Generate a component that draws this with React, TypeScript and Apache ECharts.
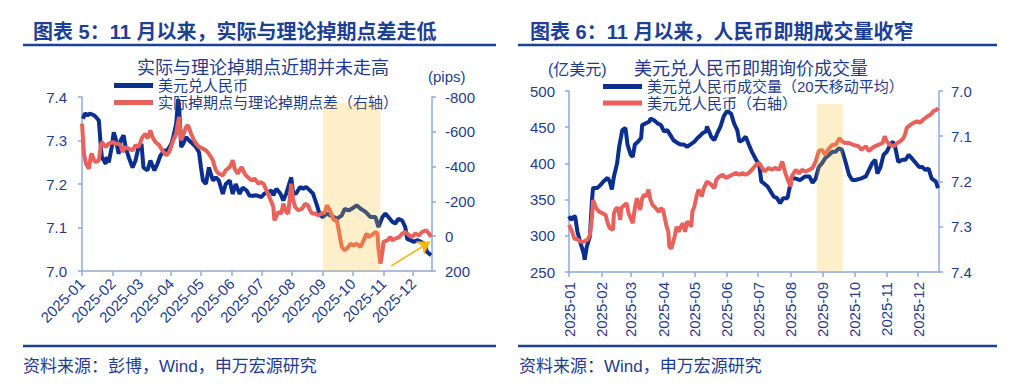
import React, { useEffect, useRef } from 'react';
import * as echarts from 'echarts';

const FONT = '"Liberation Sans", Arial, "Noto Sans CJK SC", sans-serif';
const NAVY = '#0b2f8e';
const RED = '#e9615b';
const TEXT = '#1f3c8c';
const HEAD = '#1d3f95';
const AXIS = '#8fa9dc';
const SHADE = 'rgba(245,190,40,0.25)';
const LINE_W = 4;

// ---- tick labels (month starts) ----
const monthTicks = ['2025-01-01', '2025-02-01', '2025-03-01', '2025-04-01', '2025-05-01', '2025-06-01',
  '2025-07-01', '2025-08-01', '2025-09-01', '2025-10-01', '2025-11-01', '2025-12-01'];

// ---- Chart 5: USD/CNY (left axis) ----
const fxDates = ['2025-01-02','2025-01-04','2025-01-07','2025-01-09','2025-01-13','2025-01-15','2025-01-18','2025-01-20','2025-01-21','2025-01-25','2025-01-26','2025-01-28','2025-01-31',
  '2025-02-02','2025-02-04','2025-02-07','2025-02-09','2025-02-12','2025-02-14','2025-02-17','2025-02-21','2025-02-24','2025-02-27',
  '2025-03-02','2025-03-04','2025-03-08','2025-03-11','2025-03-15','2025-03-18','2025-03-21','2025-03-25','2025-03-28',
  '2025-04-01','2025-04-03','2025-04-06','2025-04-08','2025-04-09','2025-04-11','2025-04-13','2025-04-16','2025-04-19','2025-04-23','2025-04-26','2025-04-29',
  '2025-05-01','2025-05-03','2025-05-06','2025-05-09','2025-05-13','2025-05-16','2025-05-19','2025-05-23','2025-05-26','2025-05-30',
  '2025-06-02','2025-06-05','2025-06-09','2025-06-12','2025-06-16','2025-06-19','2025-06-22','2025-06-26',
  '2025-07-01','2025-07-04','2025-07-08','2025-07-11','2025-07-13','2025-07-16','2025-07-20','2025-07-23','2025-07-26','2025-07-30','2025-07-31',
  '2025-08-02','2025-08-05','2025-08-09','2025-08-12','2025-08-15','2025-08-19','2025-08-22','2025-08-26','2025-08-29',
  '2025-09-01','2025-09-05','2025-09-08','2025-09-12','2025-09-15','2025-09-20','2025-09-23','2025-09-27','2025-09-30',
  '2025-10-05','2025-10-09','2025-10-14','2025-10-19','2025-10-24','2025-10-27','2025-10-31',
  '2025-11-03','2025-11-06','2025-11-10','2025-11-13','2025-11-16','2025-11-20','2025-11-23','2025-11-25','2025-11-28',
  '2025-12-02','2025-12-05','2025-12-09','2025-12-12','2025-12-15','2025-12-19'];
const fxValues = [7.350,7.362,7.358,7.362,7.358,7.354,7.346,7.285,7.262,7.246,7.262,7.250,7.285,
  7.319,7.304,7.269,7.300,7.312,7.285,7.262,7.238,7.254,7.285,
  7.292,7.238,7.231,7.254,7.231,7.246,7.265,7.277,7.277,
  7.292,7.308,7.338,7.395,7.375,7.285,7.292,7.308,7.300,7.292,7.285,7.273,
  7.238,7.208,7.200,7.238,7.208,7.215,7.208,7.177,7.200,7.208,
  7.177,7.200,7.177,7.192,7.185,7.173,7.173,7.174,
  7.170,7.178,7.182,7.185,7.174,7.189,7.178,7.162,7.178,7.208,7.215,
  7.178,7.178,7.193,7.189,7.193,7.185,7.178,7.151,7.128,
  7.124,7.132,7.128,7.124,7.120,7.128,7.143,7.139,7.143,
  7.151,7.143,7.136,7.124,7.124,7.101,7.124,
  7.132,7.124,7.113,7.109,7.120,7.116,7.101,7.074,7.071,
  7.067,7.071,7.067,7.063,7.044,7.036];

// ---- Chart 5: actual minus theoretical swap points, pips (right axis) ----
const swapDates = ['2025-01-01','2025-01-03','2025-01-05','2025-01-08','2025-01-10','2025-01-11','2025-01-13','2025-01-15','2025-01-18','2025-01-20','2025-01-21','2025-01-25','2025-01-28',
  '2025-02-01','2025-02-04','2025-02-07','2025-02-09','2025-02-11','2025-02-14','2025-02-17','2025-02-21','2025-02-24','2025-02-27',
  '2025-03-03','2025-03-06','2025-03-08','2025-03-11','2025-03-13','2025-03-16','2025-03-20','2025-03-23','2025-03-27','2025-03-30',
  '2025-04-03','2025-04-06','2025-04-07','2025-04-09','2025-04-11','2025-04-13','2025-04-16','2025-04-18','2025-04-21','2025-04-24','2025-04-26','2025-04-29',
  '2025-05-03','2025-05-06','2025-05-09','2025-05-13','2025-05-16','2025-05-19','2025-05-23','2025-05-26','2025-05-30',
  '2025-06-02','2025-06-04','2025-06-07','2025-06-11','2025-06-14','2025-06-17','2025-06-21','2025-06-24','2025-06-28','2025-06-30',
  '2025-07-03','2025-07-06','2025-07-09','2025-07-13','2025-07-14','2025-07-18','2025-07-21','2025-07-23','2025-07-26','2025-07-28','2025-07-31',
  '2025-08-02','2025-08-04','2025-08-07','2025-08-11','2025-08-14','2025-08-17','2025-08-19','2025-08-21','2025-08-24','2025-08-27','2025-08-31',
  '2025-09-03','2025-09-05','2025-09-08','2025-09-12','2025-09-15','2025-09-17','2025-09-20','2025-09-23','2025-09-25','2025-09-29',
  '2025-10-02','2025-10-05','2025-10-09','2025-10-12','2025-10-15','2025-10-17','2025-10-20','2025-10-24','2025-10-26','2025-10-27','2025-10-29','2025-10-31',
  '2025-11-01','2025-11-05','2025-11-08','2025-11-10','2025-11-13','2025-11-17','2025-11-20','2025-11-23','2025-11-27','2025-11-30',
  '2025-12-03','2025-12-07','2025-12-10','2025-12-14','2025-12-17','2025-12-19'];
const swapValues = [-647,-474,-417,-388,-465,-474,-436,-426,-436,-522,-541,-513,-532,
  -541,-532,-532,-522,-484,-513,-503,-493,-522,-513,
  -570,-589,-561,-608,-570,-541,-522,-493,-465,-484,
  -551,-589,-628,-685,-551,-580,-628,-637,-589,-551,-532,-513,
  -503,-493,-474,-436,-379,-359,-350,-379,-398,
  -436,-388,-359,-398,-359,-340,-321,-331,-302,-311,
  -302,-264,-225,-168,-91,-139,-130,-187,-139,-130,-302,
  -206,-168,-149,-158,-187,-177,-149,-130,-130,-120,-130,
  -139,-177,-149,-91,-91,-34,62,81,72,43,
  53,43,62,24,-15,5,-5,-24,-15,72,158,91,
  33,24,5,24,14,5,-15,-24,-5,5,
  -15,-5,-24,-34,-15,4];

// ---- Chart 6: USD/CNY spot volume, 20-day MA, 100m USD (left axis) ----
const volDates = ['2025-01-01','2025-01-03','2025-01-06','2025-01-07','2025-01-09','2025-01-12','2025-01-15','2025-01-16','2025-01-18','2025-01-21','2025-01-23','2025-01-24','2025-01-28','2025-01-31',
  '2025-02-03','2025-02-07','2025-02-09','2025-02-11','2025-02-13','2025-02-16','2025-02-18','2025-02-21','2025-02-24','2025-02-26',
  '2025-03-01','2025-03-03','2025-03-05','2025-03-08','2025-03-11','2025-03-12','2025-03-15','2025-03-19','2025-03-20','2025-03-23','2025-03-27','2025-03-30',
  '2025-04-02','2025-04-05','2025-04-08','2025-04-11','2025-04-15','2025-04-18','2025-04-21','2025-04-24','2025-04-27',
  '2025-05-01','2025-05-04','2025-05-07','2025-05-09','2025-05-12','2025-05-13','2025-05-17','2025-05-20','2025-05-23','2025-05-26','2025-05-29',
  '2025-06-01','2025-06-05','2025-06-08','2025-06-11','2025-06-13','2025-06-16','2025-06-19','2025-06-22','2025-06-25','2025-06-29',
  '2025-07-02','2025-07-04','2025-07-06','2025-07-10','2025-07-13','2025-07-16','2025-07-19','2025-07-22','2025-07-25','2025-07-29','2025-07-31',
  '2025-08-02','2025-08-06','2025-08-10','2025-08-15','2025-08-19','2025-08-22','2025-08-25','2025-08-28','2025-08-31',
  '2025-09-03','2025-09-07','2025-09-10','2025-09-13','2025-09-16','2025-09-19','2025-09-22','2025-09-26','2025-09-29',
  '2025-10-02','2025-10-07','2025-10-12','2025-10-15','2025-10-18','2025-10-21','2025-10-23','2025-10-26','2025-10-29',
  '2025-11-01','2025-11-04','2025-11-07','2025-11-09','2025-11-12','2025-11-16','2025-11-19','2025-11-22','2025-11-25','2025-11-28',
  '2025-12-02','2025-12-05','2025-12-08','2025-12-11','2025-12-14','2025-12-18','2025-12-20'];
const volValues = [327,322,327,326,306,290,276,267,285,299,350,366,366,370,
  375,380,375,364,382,400,423,446,449,426,
  412,409,426,430,435,453,455,458,462,460,455,453,
  444,446,439,432,428,426,426,423,426,
  430,435,439,442,444,451,437,432,442,451,465,
  472,469,455,446,430,432,437,426,416,405,
  398,375,373,368,361,354,352,345,352,352,366,
  379,379,377,382,382,373,379,395,400,
  407,412,416,416,421,419,405,384,377,
  377,379,382,391,400,405,386,395,412,
  416,425,430,423,402,405,405,412,407,402,
  395,395,391,393,379,375,366];

// ---- Chart 6: USD/CNY (right axis, inverted) ----
const cnyDates = ['2025-01-01','2025-01-04','2025-01-06','2025-01-09','2025-01-12','2025-01-15','2025-01-19','2025-01-21','2025-01-23','2025-01-24','2025-01-27','2025-01-30',
  '2025-02-02','2025-02-05','2025-02-07','2025-02-09','2025-02-12','2025-02-13','2025-02-15','2025-02-17','2025-02-19','2025-02-20','2025-02-23','2025-02-25','2025-02-27',
  '2025-03-01','2025-03-03','2025-03-05','2025-03-07','2025-03-10','2025-03-12','2025-03-14','2025-03-16','2025-03-18','2025-03-20','2025-03-22','2025-03-25','2025-03-28','2025-03-30',
  '2025-04-01','2025-04-04','2025-04-06','2025-04-07','2025-04-09','2025-04-12','2025-04-14','2025-04-16','2025-04-18','2025-04-20','2025-04-22','2025-04-24','2025-04-26','2025-04-28','2025-04-29',
  '2025-05-01','2025-05-03','2025-05-05','2025-05-08','2025-05-10','2025-05-13','2025-05-17','2025-05-20','2025-05-22','2025-05-25','2025-05-28','2025-05-31',
  '2025-06-03','2025-06-06','2025-06-10','2025-06-13','2025-06-16','2025-06-19','2025-06-22','2025-06-25','2025-06-29',
  '2025-07-02','2025-07-04','2025-07-07','2025-07-11','2025-07-14','2025-07-17','2025-07-21','2025-07-24','2025-07-27','2025-07-30',
  '2025-08-01','2025-08-02','2025-08-06','2025-08-09','2025-08-12','2025-08-15','2025-08-19','2025-08-22','2025-08-25','2025-08-28','2025-08-31',
  '2025-09-03','2025-09-07','2025-09-10','2025-09-13','2025-09-17','2025-09-19','2025-09-22','2025-09-26','2025-09-30',
  '2025-10-05','2025-10-08','2025-10-12','2025-10-15','2025-10-18','2025-10-21','2025-10-24','2025-10-28','2025-10-30',
  '2025-11-01','2025-11-04','2025-11-08','2025-11-11','2025-11-14','2025-11-17','2025-11-19','2025-11-20','2025-11-24','2025-11-27','2025-11-30',
  '2025-12-03','2025-12-06','2025-12-10','2025-12-13','2025-12-16','2025-12-19','2025-12-20'];
const cnyValues = [7.296,7.311,7.326,7.328,7.333,7.333,7.328,7.318,7.278,7.241,7.259,7.267,
  7.270,7.274,7.292,7.303,7.307,7.270,7.259,7.259,7.285,7.259,7.252,7.248,7.270,
  7.281,7.292,7.259,7.237,7.263,7.237,7.229,7.233,7.218,7.241,7.252,7.259,7.267,7.259,
  7.263,7.296,7.311,7.344,7.348,7.322,7.300,7.311,7.300,7.292,7.311,7.289,7.292,7.300,7.267,
  7.255,7.233,7.218,7.233,7.215,7.200,7.207,7.215,7.196,7.189,7.185,7.192,
  7.189,7.185,7.181,7.185,7.181,7.185,7.181,7.174,7.163,
  7.159,7.167,7.178,7.170,7.174,7.170,7.174,7.156,7.182,7.200,
  7.211,7.189,7.174,7.182,7.174,7.178,7.174,7.170,7.156,7.133,7.130,
  7.141,7.126,7.119,7.119,7.104,7.111,7.115,7.115,7.119,
  7.122,7.130,7.122,7.133,7.126,7.122,7.119,7.115,7.100,
  7.111,7.119,7.122,7.115,7.111,7.104,7.093,7.082,7.074,7.070,7.067,
  7.070,7.063,7.056,7.052,7.044,7.041,7.037];

// ---- annotations (data space) ----
const shade5 = { from: '2025-09-01', to: '2025-10-29', low: 7.0, high: 7.386 };
const shade6 = { from: '2025-08-26', to: '2025-09-20', low: 250, high: 482 };
const arrowFrom = { date: '2025-11-09', value: 7.012 };
const arrowTo = { date: '2025-12-18', value: 7.067 };

const ts = (s: string) => {
  const [y, m, d] = s.split('-').map(Number);
  return new Date(y, m - 1, d).getTime();
};
const pairs = (dates: string[], vals: number[]) => dates.map((d, i) => [ts(d), vals[i]]);
const fmtMonth = (v: number) => {
  const d = new Date(v);
  return `${d.getFullYear()}-${String(d.getMonth() + 1).padStart(2, '0')}`;
};

const axisLineStyle = { color: AXIS, width: 1.5 };

const makeX = (gridIndex: number, max: string, rotate: number, margin: number) => ({
  type: 'value',
  gridIndex,
  min: ts('2025-01-01'),
  max: ts(max),
  axisLine: { show: true, onZero: false, lineStyle: axisLineStyle },
  axisTick: { show: true, length: 5, customValues: monthTicks.map(ts), lineStyle: axisLineStyle },
  axisLabel: {
    customValues: monthTicks.map(ts),
    rotate,
    margin,
    color: TEXT,
    fontSize: 15,
    fontFamily: FONT,
    formatter: (v: number) => fmtMonth(v),
  },
  splitLine: { show: false },
});

const makeY = (gridIndex: number, position: string, min: number, max: number, interval: number,
  inverse: boolean, margin: number, digits: number) => ({
  type: 'value',
  gridIndex,
  position,
  min,
  max,
  interval,
  inverse,
  axisLine: { show: true, onZero: false, lineStyle: axisLineStyle },
  axisTick: { show: true, length: 4, lineStyle: axisLineStyle },
  axisLabel: {
    margin,
    color: TEXT,
    fontSize: 15,
    fontFamily: FONT,
    formatter: (v: number) => v.toFixed(digits),
  },
  splitLine: { show: false },
});

const legendItem = (name: string, left: number, top: number) => ({
  data: [name],
  left,
  top,
  padding: 0,
  icon: 'rect',
  itemWidth: 39,
  itemHeight: 5,
  selectedMode: false,
  textStyle: { color: TEXT, fontSize: 15, fontFamily: FONT },
});

const txt = (text: string, x: number, y: number, size: number, bold = false, align = 'left', color = TEXT) => ({
  type: 'text',
  x,
  y,
  silent: true,
  style: {
    text,
    fill: color,
    font: `${bold ? 'bold ' : ''}${size}px ${FONT}`,
    align,
    verticalAlign: 'middle',
    textAlign: align,
    textVerticalAlign: 'middle',
  },
});

const rule = (x1: number, x2: number, y: number) => ({
  type: 'line',
  silent: true,
  shape: { x1, y1: y, x2, y2: y },
  style: { stroke: HEAD, lineWidth: 2.5 },
});

export default function App() {
  const ref = useRef<HTMLDivElement>(null);

  useEffect(() => {
    if (!ref.current) return;
    const chart = echarts.init(ref.current, undefined, { renderer: 'svg' });
    const lineBase = { type: 'line', symbol: 'none', showSymbol: false, smooth: false };
    chart.setOption({
      animation: false,
      backgroundColor: '#ffffff',
      textStyle: { fontFamily: FONT },
      grid: [
        { left: 82, top: 97, width: 350, height: 174 },
        { left: 569, top: 91, width: 370, height: 181 },
      ],
      xAxis: [makeX(0, '2025-12-20', 45, 10), makeX(1, '2025-12-21', 90, 10)],
      yAxis: [
        makeY(0, 'left', 7.0, 7.4, 0.1, false, 15, 1),
        makeY(0, 'right', -800, 200, 200, true, 13, 0),
        makeY(1, 'left', 250, 500, 50, false, 14, 0),
        makeY(1, 'right', 7.0, 7.4, 0.1, true, 12, 1),
      ],
      legend: [
        legendItem('美元兑人民币', 114, 78),
        legendItem('实际掉期点与理论掉期点差（右轴）', 114, 95),
        legendItem('美元兑人民币成交量（20天移动平均）', 603, 79),
        legendItem('美元兑人民币（右轴）', 603, 95.5),
      ],
      series: [
        {
          ...lineBase, name: '美元兑人民币', xAxisIndex: 0, yAxisIndex: 0,
          data: pairs(fxDates, fxValues), color: NAVY,
          lineStyle: { color: NAVY, width: LINE_W },
        },
        {
          ...lineBase, name: '实际掉期点与理论掉期点差（右轴）', xAxisIndex: 0, yAxisIndex: 1,
          data: pairs(swapDates, swapValues), color: RED,
          lineStyle: { color: RED, width: LINE_W },
        },
        {
          ...lineBase, name: '美元兑人民币成交量（20天移动平均）', xAxisIndex: 1, yAxisIndex: 2,
          data: pairs(volDates, volValues), color: NAVY,
          lineStyle: { color: NAVY, width: LINE_W },
        },
        {
          ...lineBase, name: '美元兑人民币（右轴）', xAxisIndex: 1, yAxisIndex: 3,
          data: pairs(cnyDates, cnyValues), color: RED,
          lineStyle: { color: RED, width: LINE_W },
        },
        {
          ...lineBase, name: 'shade5', xAxisIndex: 0, yAxisIndex: 0, data: [], z: 10,
          markArea: {
            z: 10, silent: true, label: { show: false },
            itemStyle: { color: SHADE },
            data: [[{ xAxis: ts(shade5.from), yAxis: shade5.low }, { xAxis: ts(shade5.to), yAxis: shade5.high }]],
          },
          markLine: {
            z: 11, silent: true, symbol: ['none', 'arrow'], symbolSize: 12,
            label: { show: false },
            lineStyle: { color: '#f7b500', width: 1.5, type: 'solid' },
            data: [[{ coord: [ts(arrowFrom.date), arrowFrom.value] }, { coord: [ts(arrowTo.date), arrowTo.value] }]],
          },
        },
        {
          ...lineBase, name: 'shade6', xAxisIndex: 1, yAxisIndex: 2, data: [], z: 10,
          markArea: {
            z: 10, silent: true, label: { show: false },
            itemStyle: { color: SHADE },
            data: [[{ xAxis: ts(shade6.from), yAxis: shade6.low }, { xAxis: ts(shade6.to), yAxis: shade6.high }]],
          },
        },
      ],
      graphic: [
        txt('图表 5：11 月以来，实际与理论掉期点差走低', 33, 32, 20, true, 'left', HEAD),
        txt('图表 6：11 月以来，人民币即期成交量收窄', 530, 32, 20, true, 'left', HEAD),
        rule(23, 496, 45),
        rule(518, 997, 45),
        rule(23, 496, 346),
        rule(518, 997, 346),
        txt('实际与理论掉期点近期并未走高', 263, 67.5, 18, false, 'center'),
        txt('(pips)', 428, 76, 15),
        txt('美元兑人民币即期询价成交量', 751, 68.5, 18, false, 'center'),
        txt('(亿美元)', 548, 69, 16),
        txt('资料来源：彭博，Wind，申万宏源研究', 23, 366, 17),
        txt('资料来源：Wind，申万宏源研究', 519, 366, 17),
      ],
    });
    return () => chart.dispose();
  }, []);

  return (
    <div
      ref={ref}
      style={{ position: 'fixed', left: 0, top: 0, width: 1024, height: 389, background: '#fff' }}
    />
  );
}
